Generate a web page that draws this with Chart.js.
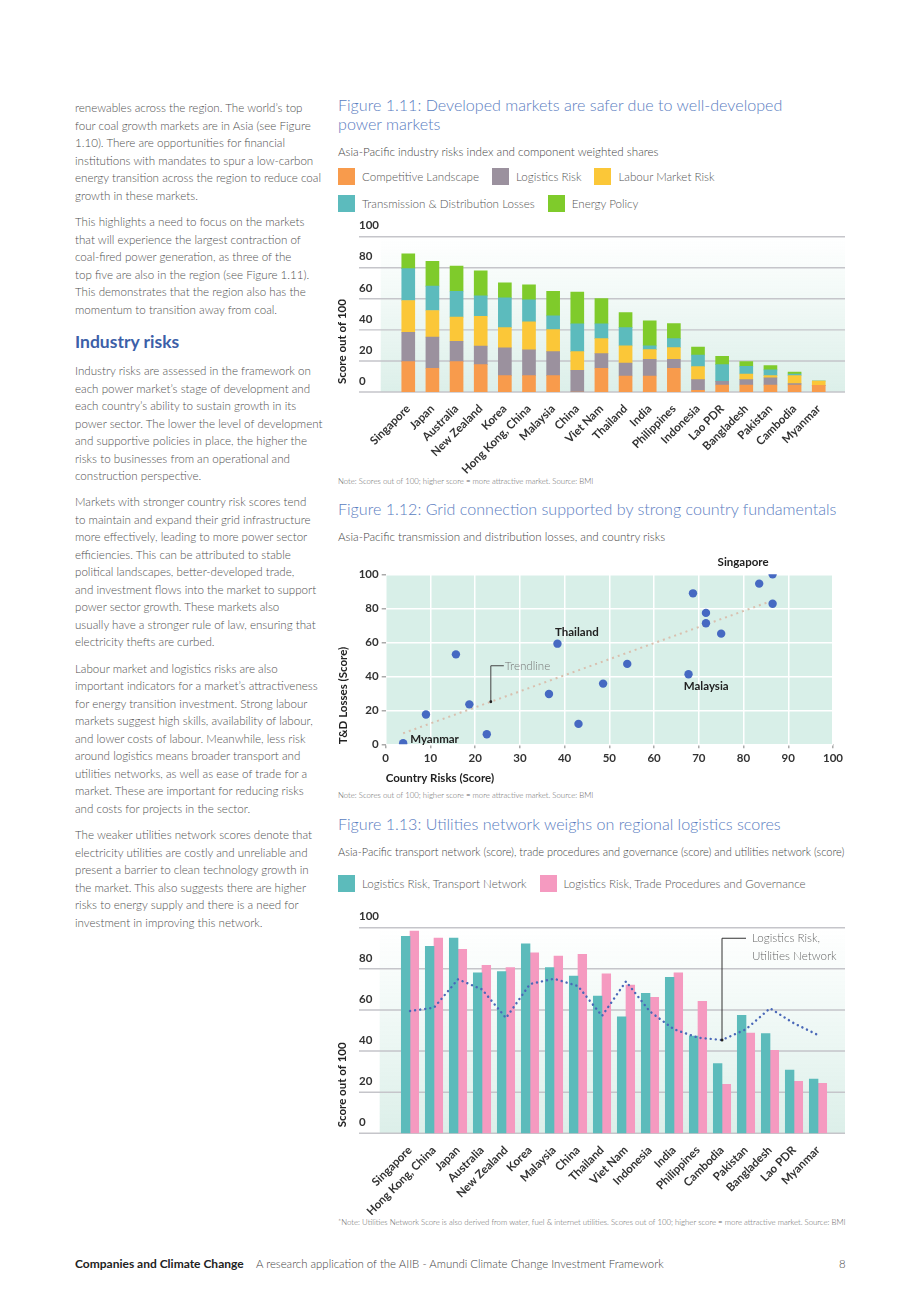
<!DOCTYPE html>
<html>
<head>
<meta charset="utf-8">
<script src="https://cdn.jsdelivr.net/npm/chart.js@4.4.1/dist/chart.umd.min.js"></script>
<style>
  body { margin: 0; width: 920px; height: 1302px; position: relative; background: #fff; overflow: hidden;
         font-family: Lato, 'Noto Sans', sans-serif; }
  .p { position: absolute; left: 75px; font-size: 11.6px; line-height: 17.5px; font-weight: 300; color: #505050; white-space: nowrap; }
  .h3 { position: absolute; left: 75px; top: 332px; font-size: 17.5px; line-height: 20px; font-weight: 700; color: #3d5fa8; }
  .fig { position: absolute; left: 338px; font-size: 16.1px; line-height: 18.5px; font-weight: 300; color: #5a7dbf; white-space: nowrap; }
  .sub { position: absolute; left: 338px; font-size: 11.6px; line-height: 16px; font-weight: 300; color: #444; white-space: nowrap; }
  .note { position: absolute; left: 338px; font-size: 7.8px; line-height: 10px; font-weight: 300; color: #666; white-space: nowrap; }
  .legend { position: absolute; left: 338px; font-size: 11.6px; font-weight: 300; color: #555; }
  .legend .row { display: flex; align-items: center; height: 17px; margin-bottom: 10px; }
  .legend .item { display: flex; align-items: center; margin-right: 13px; white-space: nowrap; }
  .legend .sw { width: 17px; height: 17px; margin-right: 7px; }
  .box { position: absolute; }
  .foot { position: absolute; top: 1256px; font-size: 11.4px; line-height: 16px; white-space: nowrap; }
</style>
</head>
<body>

<div class="p" style="top:99px">renewables across the region. The world’s top<br>four coal growth markets are in Asia (see Figure<br>1.10). There are opportunities for financial<br>institutions with mandates to spur a low-carbon<br>energy transition across the region to reduce coal<br>growth in these markets.</div>
<div class="p" style="top:213px">This highlights a need to focus on the markets<br>that will experience the largest contraction of<br>coal-fired power generation, as three of the<br>top five are also in the region (see Figure 1.11).<br>This demonstrates that the region also has the<br>momentum to transition away from coal.</div>
<div class="h3">Industry risks</div>
<div class="p" style="top:362px">Industry risks are assessed in the framework on<br>each power market’s stage of development and<br>each country’s ability to sustain growth in its<br>power sector. The lower the level of development<br>and supportive policies in place, the higher the<br>risks to businesses from an operational and<br>construction perspective.</div>
<div class="p" style="top:493px">Markets with stronger country risk scores tend<br>to maintain and expand their grid infrastructure<br>more effectively, leading to more power sector<br>efficiencies. This can be attributed to stable<br>political landscapes, better-developed trade,<br>and investment flows into the market to support<br>power sector growth. These markets also<br>usually have a stronger rule of law, ensuring that<br>electricity thefts are curbed.</div>
<div class="p" style="top:659.5px">Labour market and logistics risks are also<br>important indicators for a market’s attractiveness<br>for energy transition investment. Strong labour<br>markets suggest high skills, availability of labour,<br>and lower costs of labour. Meanwhile, less risk<br>around logistics means broader transport and<br>utilities networks, as well as ease of trade for a<br>market. These are important for reducing risks<br>and costs for projects in the sector.</div>
<div class="p" style="top:826px">The weaker utilities network scores denote that<br>electricity utilities are costly and unreliable and<br>present a barrier to clean technology growth in<br>the market. This also suggests there are higher<br>risks to energy supply and there is a need for<br>investment in improving this network.</div>

<div class="fig" style="top:96px">Figure 1.11: Developed markets are safer due to well-developed<br>power markets</div>
<div class="sub" style="top:144px">Asia-Pacific industry risks index and component weighted shares</div>
<div class="legend" id="legend1" style="top:168px"></div>
<div class="box" style="left:336px;top:215px"><canvas id="fig11" width="514" height="260"></canvas></div>
<div class="note" style="top:476px">Note: Scores out of 100; higher score = more attractive market. Source: BMI</div>

<div class="fig" style="top:500px">Figure 1.12: Grid connection supported by strong country fundamentals</div>
<div class="sub" style="top:529px">Asia-Pacific transmission and distribution losses, and country risks</div>
<div class="box" style="left:336px;top:550px"><canvas id="fig12" width="510" height="235"></canvas></div>
<div class="note" style="top:790px">Note: Scores out of 100; higher score = more attractive market. Source: BMI</div>

<div class="fig" style="top:815px">Figure 1.13: Utilities network weighs on regional logistics scores</div>
<div class="sub" style="top:844px;font-size:11px">Asia-Pacific transport network (score), trade procedures and governance (score) and utilities network (score)</div>
<div class="legend" id="legend3" style="top:875px"></div>
<div class="box" style="left:336px;top:905px"><canvas id="fig13" width="514" height="310"></canvas></div>
<div class="note" style="top:1217px">*Note: Utilities Network Score is also derived from water, fuel &amp; internet utilities. Scores out of 100; higher score = more attractive market. Source: BMI</div>

<div class="foot" style="left:75px;font-weight:700;color:#222;font-size:12px">Companies and Climate Change</div>
<div class="foot" style="left:256px;font-weight:300;color:#444">A research application of the AIIB - Amundi Climate Change Investment Framework</div>
<div class="foot" style="left:839px;font-weight:300;color:#444">8</div>

<script>
// ---- Figure 1.11: industry risks (stacked) ----
const riskCountries = ['Singapore', 'Japan', 'Australia', 'New Zealand', 'Korea', 'Hong Kong, China', 'Malaysia', 'China',
  'Viet Nam', 'Thailand', 'India', 'Philippines', 'Indonesia', 'Lao PDR', 'Bangladesh', 'Pakistan', 'Cambodia', 'Myanmar'];
const competitive  = [19.6, 15.3, 19.6, 17.6, 10.5, 10.5, 10.5, 0, 15.3, 10.3, 10.3, 15.3, 1.1, 4.5, 4.5, 4.5, 4.5, 4.3];
const logistics    = [18.9, 20.0, 13.1, 11.9, 17.9, 16.6, 15.5, 14.0, 9.4, 8.4, 10.8, 5.8, 6.9, 2.4, 3.5, 4.7, 0.9, 0];
const labour       = [20.4, 17.2, 15.5, 19.3, 13.1, 18.1, 14.2, 12.0, 9.7, 11.0, 6.2, 7.5, 8.3, 0, 3.6, 1.3, 5.1, 2.8];
const transmission = [20.5, 15.7, 16.7, 13.1, 19.1, 14.2, 8.8, 17.9, 9.5, 11.8, 2.4, 5.8, 7.4, 10.7, 5.0, 3.7, 1.1, 0];
const energyPolicy = [9.6, 15.9, 16.2, 16.2, 9.7, 9.6, 15.9, 20.4, 16.3, 9.7, 16.1, 9.7, 5.3, 5.4, 3.0, 2.8, 1.3, 0];
const riskSeries = ['Competitive Landscape', 'Logistics Risk', 'Labour Market Risk', 'Transmission & Distribution Losses', 'Energy Policy'];
const riskColors = ['#f89b4c', '#9b919e', '#fbc738', '#5cbbbd', '#7fcb2b'];
const scoreTicks = [0, 20, 40, 60, 80, 100];

// ---- Figure 1.12: T&D losses vs country risks ----
const countryRisk = [3.9, 9.0, 15.7, 18.7, 22.6, 36.5, 38.4, 43.1, 48.6, 54.0, 67.7, 68.7, 71.6, 71.6, 75.0, 83.5, 86.5, 86.5];
const tdLosses    = [0.6, 17.5, 52.9, 23.5, 5.9, 29.6, 59.2, 12.0, 35.7, 47.3, 41.2, 88.8, 77.3, 71.2, 65.1, 94.5, 100, 82.7];
const pointNames  = ['Myanmar', '', '', '', '', '', 'Thailand', '', '', '', 'Malaysia', '', '', '', '', '', 'Singapore', ''];
const trendX = [3.9, 85.8];
const trendY = [6.5, 83.9];
const xRiskTicks = [0, 10, 20, 30, 40, 50, 60, 70, 80, 90, 100];

// ---- Figure 1.13: logistics components ----
const logCountries = ['Singapore', 'Hong Kong, China', 'Japan', 'Australia', 'New Zealand', 'Korea', 'Malaysia', 'China', 'Thailand',
  'Viet Nam', 'Indonesia', 'India', 'Philippines', 'Cambodia', 'Pakistan', 'Bangladesh', 'Lao PDR', 'Myanmar'];
const transport = [95.8, 90.9, 95.0, 78.1, 78.6, 92.1, 80.6, 76.5, 66.8, 56.6, 68.1, 75.9, 47.3, 33.9, 57.4, 48.5, 30.8, 26.4];
const tradeGov  = [98.4, 95.0, 89.5, 81.7, 80.6, 87.8, 86.2, 87.0, 77.6, 72.1, 66.1, 78.1, 64.2, 23.8, 48.8, 40.4, 25.3, 24.3];
const utilities = [59.5, 61.1, 74.9, 70.0, 56.1, 72.6, 75.2, 71.6, 57.1, 73.9, 59.2, 50.6, 46.5, 45.4, 50.6, 60.8, 53.5, 47.8];
const logSeries = ['Logistics Risk, Transport Network', 'Logistics Risk, Trade Procedures and Governance', 'Logistics Risk, Utilities Network'];
const logColors = ['#5cbbbb', '#f59ac0', '#4a68b8'];

const BOLD = "bold 11.5px Lato, 'Noto Sans', sans-serif";
const LIGHT = "300 11.6px Lato, 'Noto Sans', sans-serif";

function buildLegend(id, names, colors, rows) {
  const el = document.getElementById(id);
  rows.forEach(idx => {
    const row = document.createElement('div');
    row.className = 'row';
    idx.forEach(i => {
      row.insertAdjacentHTML('beforeend',
        `<div class="item"><div class="sw" style="background:${colors[i]}"></div>${names[i].replace('&', '&amp;')}</div>`);
    });
    el.appendChild(row);
  });
}
buildLegend('legend1', riskSeries, riskColors, [[0, 1, 2], [3, 4]]);
buildLegend('legend3', logSeries, logColors, [[0, 1]]);

// light band + grey grid lines running wider than the bar area
const bandPlugin = {
  id: 'band',
  beforeDatasetsDraw(chart, args, opts) {
    const { ctx, chartArea, scales: { y } } = chart;
    const top = y.getPixelForValue(100);
    const g = ctx.createLinearGradient(0, top, 0, chartArea.bottom);
    g.addColorStop(0, 'rgba(222,241,235,0)');
    g.addColorStop(1, '#dcefe9');
    ctx.save();
    ctx.fillStyle = g;
    ctx.fillRect(opts.bgLeft, top, opts.right - opts.bgLeft, chartArea.bottom - top);
    ctx.strokeStyle = '#c5c5ca';
    ctx.lineWidth = 1.4;
    y.ticks.forEach(t => {
      const py = y.getPixelForValue(t.value);
      ctx.beginPath();
      ctx.moveTo(opts.left, py);
      ctx.lineTo(opts.right, py);
      ctx.stroke();
    });
    ctx.restore();
  }
};

const axisTitlePlugin = {
  id: 'axisTitle',
  afterDraw(chart, args, opts) {
    const { ctx, chartArea } = chart;
    ctx.save();
    ctx.translate(opts.x, chartArea.bottom - opts.gap);
    ctx.rotate(-Math.PI / 2);
    ctx.font = BOLD;
    ctx.fillStyle = '#222';
    ctx.textAlign = 'left';
    ctx.textBaseline = 'middle';
    ctx.fillText(opts.text, 0, 0);
    ctx.restore();
  }
};

function barScales(xHeight, yWidth, stacked) {
  return {
    x: {
      stacked,
      grid: { display: false },
      border: { display: false },
      ticks: { autoSkip: false, maxRotation: 45, minRotation: 45, padding: 2, color: '#333', font: { family: 'Lato', size: 11.5, weight: 'bold' } },
      afterFit: s => { s.height = xHeight; }
    },
    y: {
      stacked,
      min: 0,
      max: 100,
      grid: { display: false },
      border: { display: false },
      afterBuildTicks: s => { s.ticks = scoreTicks.map(v => ({ value: v })); },
      ticks: { crossAlign: 'far', labelOffset: -11, color: '#333', font: { family: 'Lato', size: 11.5, weight: 'bold' } },
      afterFit: s => { s.width = yWidth; }
    }
  };
}

// Figure 1.11
new Chart(document.getElementById('fig11'), {
  type: 'bar',
  data: {
    labels: riskCountries,
    datasets: [competitive, logistics, labour, transmission, energyPolicy].map((d, i) => ({
      label: riskSeries[i], data: d, backgroundColor: riskColors[i], barThickness: 13
    }))
  },
  options: {
    responsive: false,
    animation: false,
    layout: { padding: { top: 21.7, right: 19.2, left: 23, bottom: 0 } },
    plugins: {
      legend: { display: false }, tooltip: { enabled: false },
      band: { left: 23, right: 509, bgLeft: 44.7 },
      axisTitle: { x: 6.5, gap: 8, text: 'Score out of 100' }
    },
    scales: barScales(83, 37.2, true)
  },
  plugins: [bandPlugin, axisTitlePlugin]
});

// Figure 1.12
const scatterDecor = {
  id: 'scatterDecor',
  beforeDraw(chart) {
    const { ctx, chartArea: a } = chart;
    ctx.save();
    ctx.fillStyle = '#d8efe8';
    ctx.fillRect(a.left, a.top, a.width, a.height);
    ctx.restore();
  },
  afterDatasetsDraw(chart) {
    const { ctx, scales: { x, y } } = chart;
    ctx.save();
    ctx.font = BOLD;
    ctx.fillStyle = '#222';
    ctx.textBaseline = 'middle';
    const offs = { Myanmar: [7, -4], Thailand: [-2.5, -11], Malaysia: [-4.7, 12], Singapore: [-55, -12] };
    pointNames.forEach((n, i) => {
      if (!n) return;
      const px = x.getPixelForValue(countryRisk[i]), py = y.getPixelForValue(tdLosses[i]);
      ctx.fillText(n, px + offs[n][0], py + offs[n][1]);
    });
    // trendline callout
    const ax = 23.5;
    const ay = trendY[0] + (ax - trendX[0]) * (trendY[1] - trendY[0]) / (trendX[1] - trendX[0]);
    const px = x.getPixelForValue(ax), py = y.getPixelForValue(ay);
    ctx.strokeStyle = '#444';
    ctx.lineWidth = 1;
    ctx.beginPath();
    ctx.moveTo(px, py);
    ctx.lineTo(px, py - 36);
    ctx.lineTo(px + 13, py - 36);
    ctx.stroke();
    ctx.fillStyle = '#222';
    ctx.beginPath();
    ctx.arc(px, py, 1.4, 0, Math.PI * 2);
    ctx.fill();
    ctx.font = LIGHT;
    ctx.fillStyle = '#777';
    ctx.fillText('Trendline', px + 14, py - 36);
    ctx.restore();
  }
};

new Chart(document.getElementById('fig12'), {
  type: 'scatter',
  data: {
    datasets: [
      {
        data: countryRisk.map((v, i) => ({ x: v, y: tdLosses[i] })),
        backgroundColor: '#4669c2', borderWidth: 0, pointRadius: 4.2, order: 1
      },
      {
        type: 'line',
        data: trendX.map((v, i) => ({ x: v, y: trendY[i] })),
        borderColor: '#d9bfae', borderWidth: 2, borderDash: [2, 4], pointRadius: 0, order: 2
      }
    ]
  },
  options: {
    responsive: false,
    animation: false,
    layout: { padding: { top: 24.3, right: 12, left: 0, bottom: 0 } },
    plugins: { legend: { display: false }, tooltip: { enabled: false } },
    scales: {
      x: {
        type: 'linear', min: 0, max: 100,
        afterBuildTicks: s => { s.ticks = xRiskTicks.map(v => ({ value: v })); },
        grid: { color: '#ffffff', lineWidth: 1.5, tickColor: '#aaa', tickLength: 4 },
        border: { display: false },
        ticks: { padding: 3, color: '#333', font: { family: 'Lato', size: 11.5, weight: 'bold' } },
        title: { display: true, text: 'Country Risks (Score)', align: 'start', color: '#222', padding: { top: 1, bottom: 0 },
                 font: { family: 'Lato', size: 11.5, weight: 'bold' } },
        afterFit: s => { s.height = 40.7; }
      },
      y: {
        min: 0, max: 100,
        afterBuildTicks: s => { s.ticks = scoreTicks.map(v => ({ value: v })); },
        grid: { color: '#ffffff', lineWidth: 1.5, tickColor: '#aaa', tickLength: 4 },
        border: { display: false },
        ticks: { padding: 3, color: '#333', font: { family: 'Lato', size: 11.5, weight: 'bold' } },
        title: { display: true, text: 'T&D Losses (Score)', align: 'start', color: '#222', padding: 0,
                 font: { family: 'Lato', size: 11.5, weight: 'bold' } },
        afterFit: s => { s.width = 49.7; }
      }
    }
  },
  plugins: [scatterDecor]
});

// Figure 1.13
const calloutPlugin = {
  id: 'callout',
  afterDatasetsDraw(chart) {
    const { ctx, scales: { x, y } } = chart;
    const i = logCountries.indexOf('Cambodia');
    const px = x.getPixelForValue(i), py = y.getPixelForValue(utilities[i]);
    ctx.save();
    ctx.strokeStyle = '#333';
    ctx.lineWidth = 1;
    ctx.beginPath();
    ctx.moveTo(px, py);
    ctx.lineTo(px, py - 101.7);
    ctx.lineTo(px + 24, py - 101.7);
    ctx.stroke();
    ctx.fillStyle = '#222';
    ctx.beginPath();
    ctx.arc(px, py, 1.5, 0, Math.PI * 2);
    ctx.fill();
    ctx.font = LIGHT;
    ctx.fillStyle = '#666';
    ctx.textBaseline = 'middle';
    ctx.fillText('Logistics Risk,', px + 30, py - 101.7);
    ctx.fillText('Utilities Network', px + 30, py - 83.7);
    ctx.restore();
  }
};

new Chart(document.getElementById('fig13'), {
  type: 'bar',
  data: {
    labels: logCountries,
    datasets: [
      { label: logSeries[0], data: transport, backgroundColor: logColors[0], barThickness: 8.7, order: 2 },
      { label: logSeries[1], data: tradeGov, backgroundColor: logColors[1], barThickness: 8.7, order: 2 },
      { type: 'line', label: logSeries[2], data: utilities, borderColor: logColors[2], borderWidth: 2.4,
        borderDash: [0.1, 5], borderCapStyle: 'round', pointRadius: 0, tension: 0, fill: false, order: 1 }
    ]
  },
  options: {
    responsive: false,
    animation: false,
    layout: { padding: { top: 22.7, right: 20, left: 23, bottom: 0 } },
    plugins: {
      legend: { display: false }, tooltip: { enabled: false },
      band: { left: 23, right: 509, bgLeft: 43.7 },
      axisTitle: { x: 6.5, gap: 6, text: 'Score out of 100' }
    },
    scales: barScales(81.7, 39, false)
  },
  plugins: [bandPlugin, axisTitlePlugin, calloutPlugin]
});
</script>
</body>
</html>
